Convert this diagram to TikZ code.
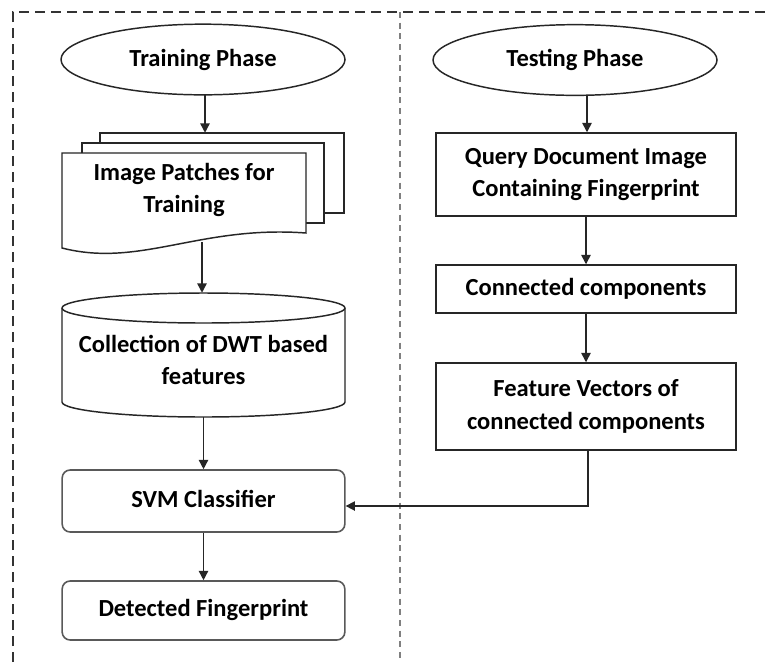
\documentclass[tikz,border=0pt]{standalone}
\usepackage{fontspec}
\setmainfont{Carlito}
\usetikzlibrary{shapes.geometric,arrows.meta,calc}
\begin{document}
\begin{tikzpicture}[x=0.75pt,y=-0.75pt,
  every node/.style={font=\fontsize{18.4}{24.5}\selectfont\bfseries, text=black, align=center, inner sep=0pt},
  line/.style={draw=black!85, line width=1.1pt},
  arr/.style={line, -{Triangle[length=7pt,width=7pt]}},
  phase/.style={ellipse, line, minimum width=213pt, minimum height=53pt},
  procbox/.style={rectangle, line, minimum width=225pt},
  roundbox/.style={rectangle, draw=black!65, line width=1.2pt, rounded corners=6pt, minimum width=212pt},
  frame/.style={draw=black!80, line width=1.1pt, dash pattern=on 7.5pt off 4.5pt},
  divider/.style={draw=black!50, line width=1.8pt, dash pattern=on 4.5pt off 3.5pt}
]
\useasboundingbox (0,0) rectangle (771,662);
\fill[white] (0,0) rectangle (771,662);

% outer frame and the column divider
\coordinate (fbl) at (13,662);
\coordinate (ftl) at (13,12);
\coordinate (ftr) at (771,12);
\draw[frame] (fbl) -- (ftl) -- (ftr);
\coordinate (dtop) at (400,12);
\coordinate (dbot) at (400,662);
\draw[divider] (dtop) -- (dbot);

% ---------------- training column ----------------
\node[phase] (train) at (203,59.5) {Training Phase};

% stacked documents
\draw[line, fill=white] (100,143) -- (100,133) -- (344,133) -- (344,213) -- (324,213);
\draw[line, fill=white] (82,153) -- (82,143) -- (324,143) -- (324,223) -- (306,223);
\draw[line, fill=white] (62,248) -- (62,153) -- (306,153) -- (306,233)
   .. controls (200,225) and (140,268) .. (62,248) -- cycle;
\node[minimum width=211.5pt, minimum height=90.75pt] (patch) at (203,193.5) {};
\node (patchtxt) at (184,190) {Image Patches for\\Training};

% cylinder store
\node[minimum width=212pt, minimum height=93pt] (coll) at (203.5,355) {};
\draw[line, fill=white] (62,308) -- (62,402) arc[start angle=180, end angle=360, x radius=141.5, y radius=-15]
   -- (345,308) arc[start angle=0, end angle=180, x radius=141.5, y radius=-15];
\draw[line] (62,308) arc[start angle=180, end angle=360, x radius=141.5, y radius=-15];
\node (colltxt) at (203.5,360) {Collection of DWT based\\features};

\node[roundbox, minimum height=46.5pt] (svm) at (203.5,501) {\raisebox{3pt}{SVM Classifier}};
\node[roundbox, minimum height=44.25pt] (det) at (203.5,610.5) {\raisebox{4pt}{Detected Fingerprint}};

% ---------------- testing column ----------------
\node[phase] (test) at (575,60) {\raisebox{2pt}{Testing Phase}};
\node[procbox, minimum height=62.25pt] (query) at (586,174.5) {Query Document Image\\Containing Fingerprint};
\node[procbox, minimum height=36pt] (conn) at (586,289) {Connected components};
\node[procbox, minimum height=65.25pt] (feat) at (586,406.5) {Feature Vectors of\\connected components};

% ---------------- connectors ----------------
\draw[arr] (205,95) -- (patch.north -| 205,0);
\draw[arr] (202,242) -- (coll.north -| 202,0);
\draw[arr] (coll.south) -- (svm.north);
\draw[arr] (svm.south) -- (det.north);

\draw[arr] (587,95) -- (query.north -| 587,0);
\draw[arr] (query.south) -- (conn.north);
\draw[arr] (conn.south) -- (feat.north);
\coordinate (bend) at (588,506);
\draw[arr] (feat.south -| bend) -- (bend) -- (bend -| svm.east);
\end{tikzpicture}
\end{document}
